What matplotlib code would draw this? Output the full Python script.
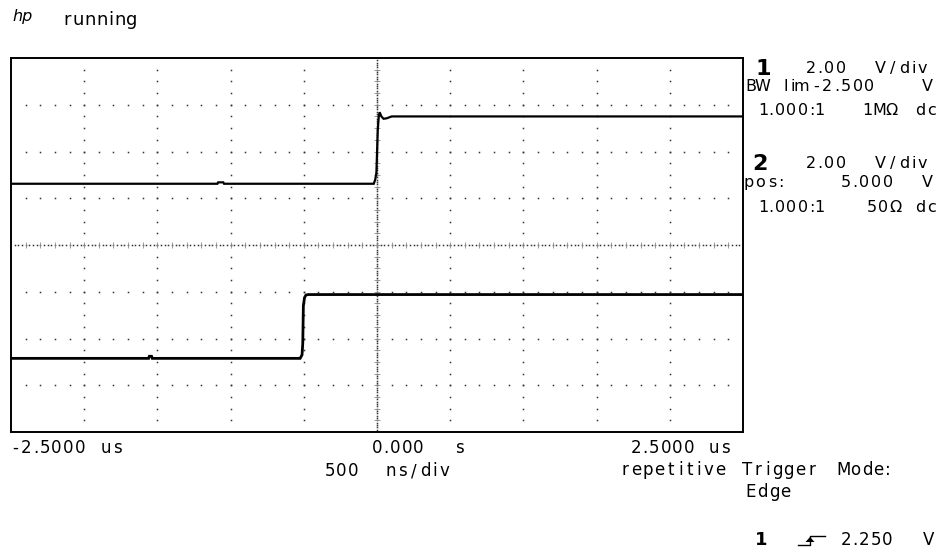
import numpy as np
import matplotlib.pyplot as plt

# scope settings
V_PER_DIV = 2.0
CH1_OFFSET = -2.5     # V at screen centre
CH2_POS = 5.0
NS_PER_DIV = 500.0

# trace 1 (time in ns, volts)
ch1_t = [-2500, -1090, -1085, -1050, -1045, -22, -12, -4, 5, 12, 18, 30, 45, 66, 100, 2500]
ch1_v = [0.12, 0.12, 0.18, 0.18, 0.12, 0.12, 0.3, 0.6, 2.4, 3.0, 3.18, 3.0, 2.9, 2.92, 3.0, 3.0]

# trace 2
ch2_t = [-2500, -1560, -1555, -1540, -1535, -525, -512, -507, -503, -495, -485, -470, 2500]
ch2_v = [0.15, 0.15, 0.24, 0.24, 0.15, 0.15, 0.3, 0.8, 2.4, 2.75, 2.86, 2.88, 2.88]

W, H, DPI = 945, 558, 100
fig = plt.figure(figsize=(W / DPI, H / DPI), dpi=DPI)
fig.patch.set_facecolor('white')

# text layer in pixel coordinates
tx = fig.add_axes([0, 0, 1, 1])
tx.set_xlim(0, W)
tx.set_ylim(H, 0)
tx.axis('off')

NARROW = set('il1.:')


def hp_text(left, base, s, size=11.5, weight='normal'):
    # fixed cell spacing like the scope's screen font
    x = left - 2.0
    for ch in s:
        w = 7.0 if ch in NARROW else 11.6
        if ch != ' ':
            tx.text(x + w / 2, base, ch, ha='center', va='baseline',
                    fontsize=size, fontweight=weight, family='DejaVu Sans',
                    color='black')
        x += w


# graticule
ax = fig.add_axes([11 / W, 1 - 432 / H, 732 / W, 374 / H])
ax.set_xlim(-5 * NS_PER_DIV, 5 * NS_PER_DIV)
ax.set_ylim(-4, 4)
ax.set_xticks([])
ax.set_yticks([])
for sp in ax.spines.values():
    sp.set_linewidth(1.4)
    sp.set_color('black')

dot = dict(ls='none', marker='s', ms=1.1, mew=0, color='0.2')
ys = np.arange(-15, 16) * 0.25
for k in [-4, -3, -2, -1, 1, 2, 3, 4]:
    ax.plot(np.full_like(ys, k * NS_PER_DIV), ys, **dot)
xs = np.arange(-24, 25) * NS_PER_DIV / 5
for k in [-3, -2, -1, 1, 2, 3]:
    ax.plot(xs, np.full_like(xs, k), **dot)

# centre axes, dense dots plus small cross ticks
yc = np.arange(-79, 80) * 0.05
ax.plot(np.zeros_like(yc), yc, **dot)
xc = np.arange(-99, 100) * NS_PER_DIV / 20
ax.plot(xc, np.zeros_like(xc), **dot)
ax.plot(np.zeros_like(ys), ys, ls='none', marker='_', ms=4.5, mew=0.6, color='0.55')
ax.plot(xs, np.zeros_like(xs), ls='none', marker='|', ms=4.5, mew=0.6, color='0.55')

# traces
d1 = (np.array(ch1_v) - CH1_OFFSET) / V_PER_DIV
d2 = (np.array(ch2_v) - CH2_POS) / V_PER_DIV
ax.plot(ch1_t, d1, color='black', lw=1.6, solid_joinstyle='miter')
ax.plot(ch2_t, d2, color='black', lw=2.0, solid_joinstyle='miter')

# header
tx.text(12, 21, 'hp', fontsize=11.5, style='italic', family='DejaVu Sans')
hp_text(63, 25, 'running', size=13)

# channel 1 block
tx.text(763, 75, '1', ha='center', va='baseline', fontsize=16, fontweight='bold')
hp_text(807, 73, '2.00')
hp_text(877, 73, 'V/div')
hp_text(747, 91, 'BW')
hp_text(784, 91, 'lim')
hp_text(812, 91, '-2.500')
hp_text(924, 91, 'V')
hp_text(762, 115, '1.000:1')
hp_text(866, 115, '1')
hp_text(876, 115, 'M\u03a9')
hp_text(916, 115, 'dc')

# channel 2 block
tx.text(760, 170, '2', ha='center', va='baseline', fontsize=16, fontweight='bold')
hp_text(807, 168, '2.00')
hp_text(877, 168, 'V/div')
hp_text(745, 187, 'pos:')
hp_text(842, 187, '5.000')
hp_text(924, 187, 'V')
hp_text(762, 212, '1.000:1')
hp_text(868, 212, '50\u03a9')
hp_text(916, 212, 'dc')

# time base
hp_text(11, 453, '-2.5000', size=12)
hp_text(102, 453, 'us', size=12)
hp_text(373, 453, '0.000', size=12)
hp_text(456, 453, 's', size=12)
hp_text(326, 476, '500', size=12)
hp_text(387, 476, 'ns/div', size=12)
hp_text(632, 453, '2.5000', size=12)
hp_text(710, 453, 'us', size=12)
hp_text(621, 475, 'repetitive', size=12)
hp_text(743, 475, 'Trigger', size=12)
hp_text(840, 475, 'Mode:', size=12)
hp_text(747, 497, 'Edge', size=12)

# trigger level
tx.text(761.5, 545, '1', ha='center', va='baseline', fontsize=13, fontweight='bold')
tx.plot([798, 810, 810, 825], [545, 545, 536, 536], color='black', lw=1.0)
tx.fill([805.5, 814.5, 810], [542, 542, 537], color='black', lw=0)
hp_text(842, 545, '2.250', size=12)
hp_text(925, 545, 'V', size=12)

fig.savefig('out.png', dpi=DPI, facecolor='white')
